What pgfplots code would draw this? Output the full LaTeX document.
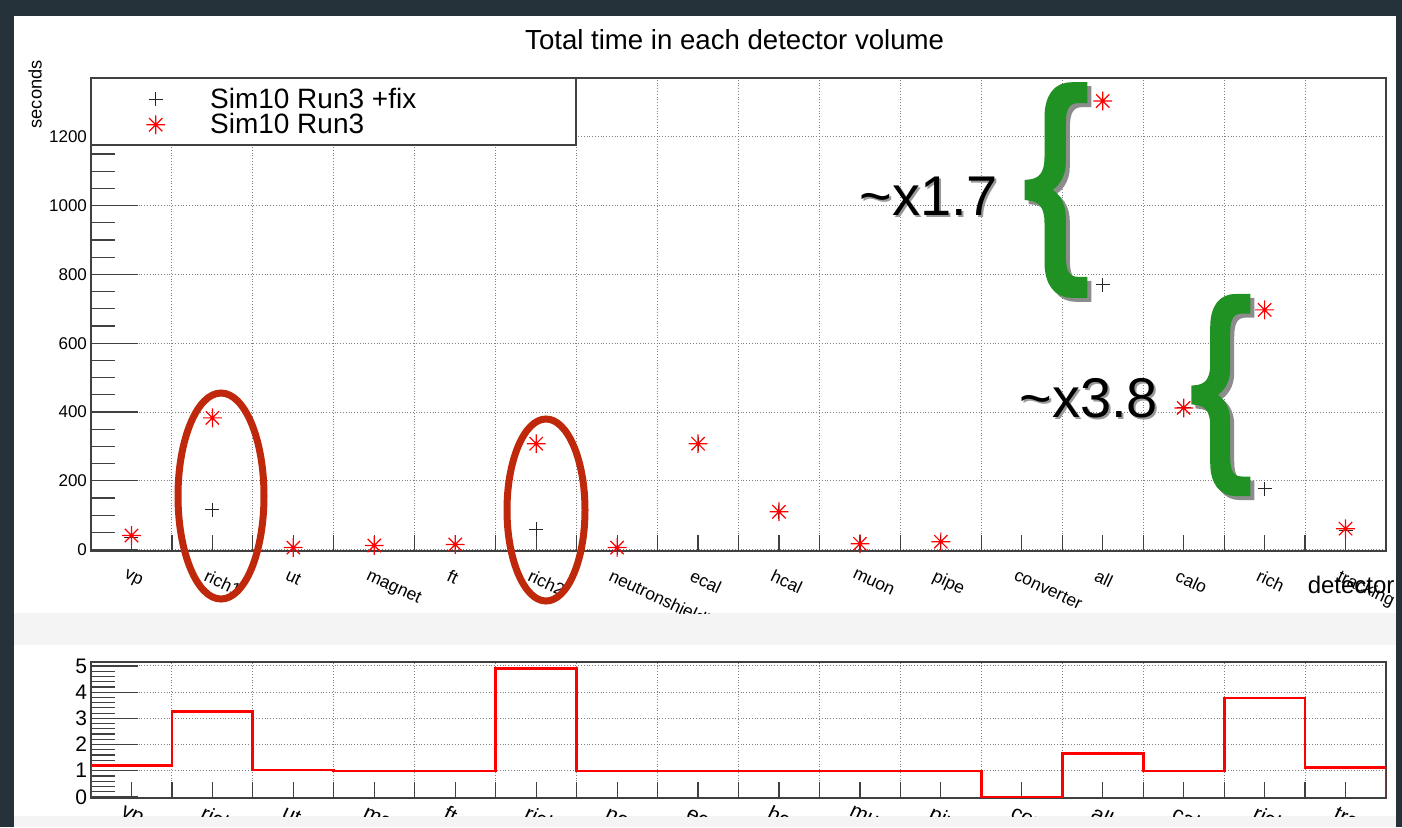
\documentclass[border=0pt]{standalone}
\usepackage{fontspec}
\setmainfont{Liberation Sans}
\newfontfamily\bracefont[FakeBold=3]{Liberation Sans}
\usepackage{pgfplots}
\pgfplotsset{compat=1.18}
\definecolor{bg}{RGB}{38,50,58}
\definecolor{band}{RGB}{244,244,244}
\definecolor{ellred}{RGB}{192,40,12}
\definecolor{brgreen}{RGB}{32,146,36}
\newcommand{\fs}[1]{\fontsize{#1}{#1}\selectfont}
\pgfdeclareplotmark{rootstar}{%
  \pgfpathmoveto{\pgfqpoint{-\pgfplotmarksize}{0pt}}\pgfpathlineto{\pgfqpoint{\pgfplotmarksize}{0pt}}%
  \pgfpathmoveto{\pgfqpoint{0pt}{-\pgfplotmarksize}}\pgfpathlineto{\pgfqpoint{0pt}{\pgfplotmarksize}}%
  \pgfpathmoveto{\pgfqpoint{-0.707\pgfplotmarksize}{-0.707\pgfplotmarksize}}\pgfpathlineto{\pgfqpoint{0.707\pgfplotmarksize}{0.707\pgfplotmarksize}}%
  \pgfpathmoveto{\pgfqpoint{-0.707\pgfplotmarksize}{0.707\pgfplotmarksize}}\pgfpathlineto{\pgfqpoint{0.707\pgfplotmarksize}{-0.707\pgfplotmarksize}}%
  \pgfusepathqstroke}
\pgfplotsset{
  rootaxis/.style={
    scale only axis, width=647.5pt,
    xmin=0, xmax=16,
    axis line style={black!75, line width=0.7pt},
    xtick={1,...,15}, xticklabels={},
    tick pos=left, tick align=inside,
    xtick style={black!75, line width=0.6pt, /pgfplots/major tick length=8pt},
    ytick style={black!75, line width=0.6pt, /pgfplots/major tick length=23.5pt},
    minor tick length=12pt,
    grid=major,
    major grid style={black!50, densely dotted, line width=0.45pt},
    /pgf/number format/assume math mode=true,
    /pgf/number format/1000 sep={},
    extra x ticks={0.5,1.5,...,15.5},
    extra x tick style={grid=none, /pgfplots/major tick length=0pt},
  }
}
\tikzset{px/.style={x=0.5pt,y=-0.5pt}}
\begin{document}
\begin{tikzpicture}
\begin{scope}[px]
\fill[bg] (0,0) rectangle (1402,827);
\fill[white] (14,16) rectangle (1396,613);
\fill[band] (14,613) rectangle (1396,645);
\fill[white] (14,645) rectangle (1396,816);
\fill[band] (14,816) rectangle (1396,827);
\end{scope}

% ---------- top panel ----------
\begin{scope}
\clip (7pt,-8pt) rectangle (698pt,-306.5pt);
\begin{axis}[rootaxis,
  at={(45.5pt,-275.5pt)}, anchor=south west, height=236.5pt,
  ymin=-4, ymax=1371,
  ytick={0,200,...,1200}, minor y tick num=3,
  yticklabel style={font=\fs{8.5}, xshift=1.5pt},
  extra x tick labels={vp,rich1,ut,magnet,ft,rich2,neutronshielding,ecal,hcal,muon,pipe,converter,all,calo,rich,tracking},
  extra x tick style={tick label style={font=\fs{8.7}, rotate=-25, anchor=north west, xshift=-1.5pt, yshift=-5.5pt}},
  title={Total time in each detector volume},
  title style={font=\fs{13.8}, at={(axis description cs:0.497,1.055)}, anchor=center},
  ylabel={seconds},
  ylabel style={font=\fs{9.1}, at={(axis description cs:-0.0432,1.052)}, anchor=east, rotate=0},
  xlabel={detector},
  xlabel style={font=\fs{12}, at={(axis description cs:1.012,-0.072)}, anchor=east},
  legend style={at={(axis description cs:0.0262,0.928)}, anchor=west, draw=none, fill=none,
    font=\fs{14}, inner sep=0pt, row sep=-3pt},
  legend cell align=left,
  legend image code/.code={\path (0pt,0pt) (40pt,0pt);
     \draw[#1, mark repeat=2, mark phase=2] plot coordinates {(0pt,0pt)(15pt,0pt)(30pt,0pt)};},
]
\draw[black!75, line width=0.7pt, fill=white] (rel axis cs:0,1) rectangle (rel axis cs:0.3745,0.8584);
\addplot[only marks, mark=+, mark size=3.5pt, black!85, mark options={line width=0.5pt}]
  coordinates {(0.5,36)(1.5,116)(2.5,6)(3.5,12)(4.5,15)(5.5,60)(6.5,6)(7.5,308)(8.5,110)(9.5,17)(10.5,23)(12.5,770)(13.5,412)(14.5,177)(15.5,56)};
\addlegendentry{Sim10 Run3 +fix}
\addplot[only marks, mark=rootstar, mark size=4.7pt, red, mark options={line width=0.6pt}]
  coordinates {(0.5,41)(1.5,383)(2.5,6)(3.5,12)(4.5,15)(5.5,308)(6.5,6)(7.5,308)(8.5,110)(9.5,17)(10.5,23)(12.5,1304)(13.5,412)(14.5,697)(15.5,61)};
\addlegendentry{Sim10 Run3}
\end{axis}
\end{scope}

% ---------- ratio panel ----------
\begin{scope}
\clip (7pt,-322.5pt) rectangle (698pt,-408pt);
\begin{axis}[rootaxis,
  at={(45.5pt,-399pt)}, anchor=south west, height=68pt,
  ymin=-0.04, ymax=5.15,
  ytick={0,...,5}, minor y tick num=4,
  yticklabel style={font=\fs{10.5}, xshift=1.5pt},
  extra x tick labels={vp,rich1,ut,magnet,ft,rich2,neutronshielding,ecal,hcal,muon,pipe,converter,all,calo,rich,tracking},
  extra x tick style={tick label style={font=\fs{10.5}, rotate=-25, anchor=north west, xshift=-5pt, yshift=-1pt}},
]
\addplot[const plot, red, line width=1.4pt]
  coordinates {(0,0)(0,1.2)(1,3.27)(2,1.03)(3,0.99)(4,0.99)(5,4.91)(6,0.99)(7,0.99)(8,0.99)(9,0.99)(10,0.99)(11,0)(12,1.66)(13,0.99)(14,3.78)(15,1.13)(16,1.13)(16,0)};
\end{axis}
\end{scope}

% ---------- annotations ----------
\begin{scope}[px]
\draw[ellred, line width=3.5pt] (221,496) ellipse [x radius=43, y radius=103];
\draw[ellred, line width=3.5pt] (546,510) ellipse [x radius=39, y radius=91];

\node[text=black!45, inner sep=0, xscale=0.85, font=\bracefont\fs{112}] at (1060,194) {\{};
\node[text=brgreen, inner sep=0, xscale=0.85, font=\bracefont\fs{112}] at (1056,190) {\{};
\node[text=black!45, inner sep=0, xscale=0.85, font=\bracefont\fs{105}] at (1225,399) {\{};
\node[text=brgreen, inner sep=0, xscale=0.85, font=\bracefont\fs{105}] at (1221,395) {\{};

\node[text=black!40, inner sep=0, anchor=base west, font=\fs{28}] at (861,217) {\char`\~x1.7};
\node[text=black, inner sep=0, anchor=base west, font=\fs{28}] at (859,215) {\char`\~x1.7};
\node[text=black!40, inner sep=0, anchor=base west, font=\fs{28}] at (1021,419) {\char`\~x3.8};
\node[text=black, inner sep=0, anchor=base west, font=\fs{28}] at (1019,417) {\char`\~x3.8};

\pgfresetboundingbox
\path[use as bounding box] (0,0) rectangle (1402,827);
\end{scope}
\end{tikzpicture}
\end{document}
